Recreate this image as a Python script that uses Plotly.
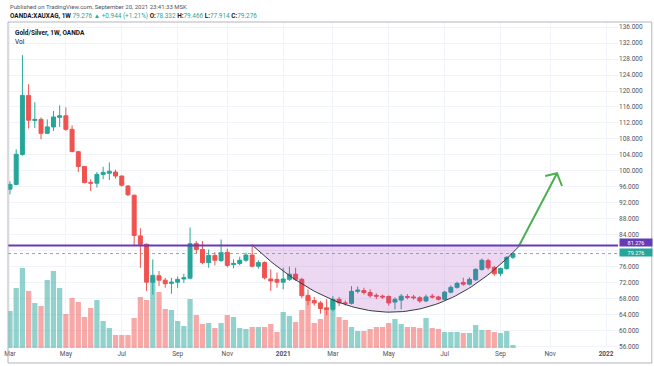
import numpy as np
import pandas as pd
import plotly.graph_objects as go

# ---------------- data (weekly bars, OANDA:XAUXAG) ----------------
first_bar = "2020-03-02"
opens = [95.4, 96.6, 104.1, 118.9, 112.6, 112.9, 109.4, 111.0, 113.4, 113.8,
         110.4, 104.8, 101.1, 97.1, 96.9, 99.1, 99.4, 99.7, 98.7, 96.2,
         93.9, 83.7, 81.6, 72.1, 73.7, 72.6, 71.8, 72.1, 72.9, 73.1,
         81.8, 80.3, 77.0, 78.8, 77.5, 79.6, 76.5, 76.8, 77.6, 78.9,
         76.1, 77.0, 72.9, 72.8, 72.1, 72.8, 74.1, 72.8, 68.8, 67.5,
         66.9, 65.6, 65.3, 67.8, 66.9, 66.8, 69.8, 70.0, 69.5, 68.8,
         68.6, 68.5, 67.1, 67.6, 68.5, 68.4, 68.2, 67.4, 68.6, 68.4,
         67.8, 69.6, 70.8, 72.0, 71.6, 72.7, 75.3, 77.5, 75.8, 74.3,
         75.5, 78.332]
highs = [97.4, 105.4, 129.0, 121.7, 117.2, 113.4, 112.9, 115.0, 116.4, 115.9,
         111.4, 105.0, 101.2, 97.9, 99.7, 101.0, 102.1, 100.3, 98.8, 96.45,
         94.0, 85.6, 81.8, 77.8, 74.9, 73.2, 73.2, 73.5, 74.2, 85.8,
         82.4, 82.4, 80.3, 79.6, 82.8, 80.5, 77.8, 78.5, 79.5, 81.6,
         77.6, 77.3, 75.3, 74.5, 75.7, 76.0, 75.7, 73.2, 70.3, 68.4,
         67.4, 67.9, 68.6, 68.4, 67.5, 71.1, 71.0, 70.7, 70.3, 69.3,
         69.0, 68.8, 68.3, 69.1, 69.1, 68.9, 68.6, 69.0, 69.2, 68.7,
         69.9, 71.3, 72.2, 73.2, 73.3, 75.6, 78.0, 78.0, 76.2, 75.8,
         78.6, 79.466]
lows = [94.1, 96.4, 103.8, 110.6, 110.7, 107.9, 109.2, 110.0, 111.0, 110.0,
        104.7, 99.7, 96.9, 94.95, 95.8, 97.9, 97.7, 98.1, 96.0, 93.7,
        81.2, 75.7, 69.9, 69.0, 71.1, 70.7, 69.2, 70.7, 71.9, 72.8,
        79.4, 76.6, 75.7, 76.3, 77.2, 75.8, 75.6, 76.3, 77.2, 75.8,
        75.5, 72.8, 69.9, 70.7, 70.3, 72.4, 72.4, 68.1, 66.3, 66.2,
        64.2, 63.8, 64.8, 66.1, 66.2, 66.5, 69.3, 69.0, 68.2, 67.9,
        67.9, 66.2, 65.3, 65.3, 67.8, 67.7, 66.9, 67.1, 68.0, 67.5,
        67.6, 69.3, 70.5, 71.2, 71.3, 72.4, 75.0, 75.2, 73.7, 73.6,
        75.2, 77.914]
closes = [96.6, 104.15, 118.9, 112.7, 112.9, 109.4, 111.0, 113.5, 113.8, 110.4,
          104.8, 101.1, 97.05, 96.9, 99.1, 99.6, 99.9, 98.7, 96.4, 94.0,
          83.8, 81.6, 72.1, 73.8, 72.6, 71.7, 72.1, 72.8, 73.2, 81.75,
          80.3, 77.0, 78.8, 77.6, 79.5, 76.3, 76.8, 77.6, 78.9, 76.1,
          77.0, 73.2, 72.4, 72.1, 72.9, 74.1, 72.8, 68.7, 67.5, 66.9,
          65.5, 65.3, 67.8, 66.9, 66.8, 69.8, 70.1, 69.5, 68.7, 68.6,
          68.4, 66.9, 67.8, 68.6, 68.3, 68.2, 67.4, 68.4, 68.4, 67.8,
          69.6, 70.8, 71.8, 71.6, 72.8, 75.3, 77.6, 75.7, 74.2, 75.5,
          78.332, 79.276]
volumes = [37, 60, 80, 57, 45, 42, 68, 77, 60, 34,
           50, 46, 31, 40, 48, 27, 20, 13, 13, 13,
           30, 51, 48, 70, 56, 39, 38, 27, 22, 49,
           33, 24, 25, 20, 25, 33, 31, 20, 19, 21,
           21, 21, 24, 16, 36, 32, 26, 38, 51, 25,
           29, 41, 48, 31, 28, 21, 17, 17, 19, 21,
           21, 25, 29, 24, 21, 21, 20, 30, 20, 19,
           16, 16, 16, 15, 15, 23, 18, 18, 16, 15,
           17, 3]

tick_months = ["2020-03", "2020-05", "2020-07", "2020-09", "2020-11", "2021-01",
               "2021-03", "2021-05", "2021-07", "2021-09", "2021-11", "2022-01"]
tick_labels = ["Mar", "May", "Jul", "Sep", "Nov", "<b>2021</b>",
               "Mar", "May", "Jul", "Sep", "Nov", "<b>2022</b>"]
price_ticks = list(range(56, 137, 4))
hidden_price_labels = [80]   # covered by the price tags on the scale

resistance = 81.276
# drawings (bar index, price)
arc_pts = [(39.1, 81.276), (62.0, 47.9), (82.1, 81.276)]   # quadratic arc
arrow_pts = [(82.0, 81.276), (88.1, 99.4)]
arrow_wings = [(86.2, 98.7), (88.1, 99.4), (88.9, 96.2)]

UP, DN = "#26a69a", "#ef5350"
PURPLE = "#673ab7"

# ---------------- helpers ----------------
t0 = pd.Timestamp(first_bar)
dates = t0 + pd.to_timedelta(np.arange(len(closes)) * 7, unit="D")


def bar_to_date(b):
    return t0 + pd.to_timedelta(np.asarray(b, dtype=float) * 7, unit="D")


all_weeks = pd.date_range(t0, "2022-03-01", freq="7D")
tick_vals = [all_weeks[all_weeks >= pd.Timestamp(m + "-01")][0] for m in tick_months]

vol_colors = ["rgba(38,166,154,0.5)" if c >= o else "rgba(239,83,80,0.5)"
              for o, c in zip(opens, closes)]

fig = go.Figure()

# volume (base axis, hidden)
fig.add_trace(go.Bar(x=dates, y=volumes, marker_color=vol_colors,
                     marker_line_width=0, yaxis="y", showlegend=False,
                     hoverinfo="skip"))

# arc fill + arc line
tt = np.linspace(0, 1, 80)
(b0, p0), (b1, p1), (b2, p2) = arc_pts
bx = (1 - tt) ** 2 * b0 + 2 * tt * (1 - tt) * b1 + tt ** 2 * b2
py = (1 - tt) ** 2 * p0 + 2 * tt * (1 - tt) * p1 + tt ** 2 * p2
arc_dates = bar_to_date(bx)
fig.add_trace(go.Scatter(x=arc_dates, y=py, mode="lines", fill="toself",
                         fillcolor="rgba(156,39,176,0.18)",
                         line=dict(color="rgba(0,0,0,0)", width=0),
                         yaxis="y2", showlegend=False, hoverinfo="skip"))

fig.add_trace(go.Candlestick(
    x=dates, open=opens, high=highs, low=lows, close=closes, yaxis="y2",
    increasing=dict(line=dict(color=UP, width=1), fillcolor=UP),
    decreasing=dict(line=dict(color=DN, width=1), fillcolor=DN),
    whiskerwidth=0, showlegend=False))

fig.add_trace(go.Scatter(x=arc_dates, y=py, mode="lines",
                         line=dict(color="#363a45", width=1),
                         yaxis="y2", showlegend=False, hoverinfo="skip"))

# green arrow
fig.add_trace(go.Scatter(x=bar_to_date([p[0] for p in arrow_pts]),
                         y=[p[1] for p in arrow_pts], mode="lines",
                         line=dict(color="#4caf50", width=2),
                         yaxis="y2", showlegend=False, hoverinfo="skip"))
fig.add_trace(go.Scatter(x=bar_to_date([p[0] for p in arrow_wings]),
                         y=[p[1] for p in arrow_wings], mode="lines",
                         line=dict(color="#4caf50", width=2),
                         yaxis="y2", showlegend=False, hoverinfo="skip"))

last = closes[-1]
chg = closes[-1] - closes[-2]
pct = chg / closes[-2] * 100

shapes = [
    dict(type="line", xref="paper", x0=0, x1=1, yref="y2", y0=last, y1=last,
         line=dict(color="rgba(38,166,154,0.7)", width=1, dash="dot")),
    dict(type="line", xref="paper", x0=0, x1=1, yref="y2", y0=resistance, y1=resistance,
         line=dict(color=PURPLE, width=2)),
    dict(type="rect", xref="paper", yref="paper", x0=0, x1=1.0554, y0=-0.046, y1=1,
         line=dict(color="#b2b5be", width=1), fillcolor="rgba(0,0,0,0)"),
]

T = "#26a69a"
hdr2 = (f"<b>OANDA:XAUXAG, 1W</b> <span style='color:{T}'>{last:.3f} ▲ +{chg:.3f} ({pct:+.2f}%)</span> "
        f"<b>O:</b><span style='color:{T}'>{opens[-1]:.3f}</span> "
        f"<b>H:</b><span style='color:{T}'>{highs[-1]:.3f}</span> "
        f"<b>L:</b><span style='color:{T}'>{lows[-1]:.3f}</span> "
        f"<b>C:</b><span style='color:{T}'>{closes[-1]:.3f}</span>")

annotations = [
    dict(text="Published on TradingView.com, September 20, 2021 23:41:33 MSK",
         xref="paper", yref="paper", x=0, y=1.049, xanchor="left", yanchor="middle",
         showarrow=False, font=dict(size=6, color="#50535e")),
    dict(text=hdr2, xref="paper", yref="paper", x=0, y=1.018, xanchor="left",
         yanchor="middle", showarrow=False, font=dict(size=6.4, color="#131722")),
    dict(text="<b>Gold/Silver, 1W, OANDA</b>", xref="paper", yref="paper", x=0.008,
         y=0.966, xanchor="left", yanchor="middle", showarrow=False,
         font=dict(size=6.5, color="#131722")),
    dict(text="Vol", xref="paper", yref="paper", x=0.008, y=0.939, xanchor="left",
         yanchor="middle", showarrow=False, font=dict(size=6.5, color="#131722")),
    dict(text=f"{resistance:.3f}", xref="paper", yref="y2", x=1, y=resistance,
         xanchor="left", yanchor="middle", showarrow=False, bgcolor=PURPLE,
         font=dict(size=5.5, color="white"), borderpad=0, xshift=1, yshift=3,
         width=32, height=7),
    dict(text=f"{last:.3f}", xref="paper", yref="y2", x=1, y=last,
         xanchor="left", yanchor="middle", showarrow=False, bgcolor=UP,
         font=dict(size=5.5, color="white"), borderpad=0, xshift=1, yshift=1,
         width=32, height=7),
]

x_left = bar_to_date(-0.32)
x_right = bar_to_date(97.92)

fig.update_layout(
    width=654, height=366,
    margin=dict(l=4, r=36, t=22, b=18),
    paper_bgcolor="white", plot_bgcolor="white",
    font=dict(family="Roboto, Open Sans, sans-serif", size=6.5, color="#131722"),
    showlegend=False,
    boxgap=0.2, boxgroupgap=0.2, bargap=0.15,
    xaxis=dict(type="date", range=[x_left, x_right], tickvals=tick_vals,
               ticktext=tick_labels, showgrid=True, gridcolor="#f0f3fa",
               gridwidth=1, zeroline=False, showline=False, ticks="",
               tickfont=dict(size=6.5, color="#50535e"),
               ticklabeloverflow="allow", rangeslider=dict(visible=False),
               fixedrange=True),
    yaxis=dict(range=[0, 326], visible=False, showgrid=False, fixedrange=True),
    yaxis2=dict(overlaying="y", side="right", range=[55.6, 137.3],
                tickvals=price_ticks,
                ticktext=["" if v in hidden_price_labels else f"{v:.3f}" for v in price_ticks],
                showgrid=True, gridcolor="#f0f3fa", gridwidth=1, zeroline=False,
                showline=False, ticks="", tickfont=dict(size=6.5, color="#50535e"),
                fixedrange=True),
    shapes=shapes, annotations=annotations,
)

fig.write_html("out.html", config={"displayModeBar": False})

# remove the browser's default page margin so the chart sits at (0, 0)
with open("out.html", "r", encoding="utf-8") as fh:
    html = fh.read()
html = html.replace("<body>", '<body style="margin:0;padding:0;overflow:hidden">', 1)
with open("out.html", "w", encoding="utf-8") as fh:
    fh.write(html)
